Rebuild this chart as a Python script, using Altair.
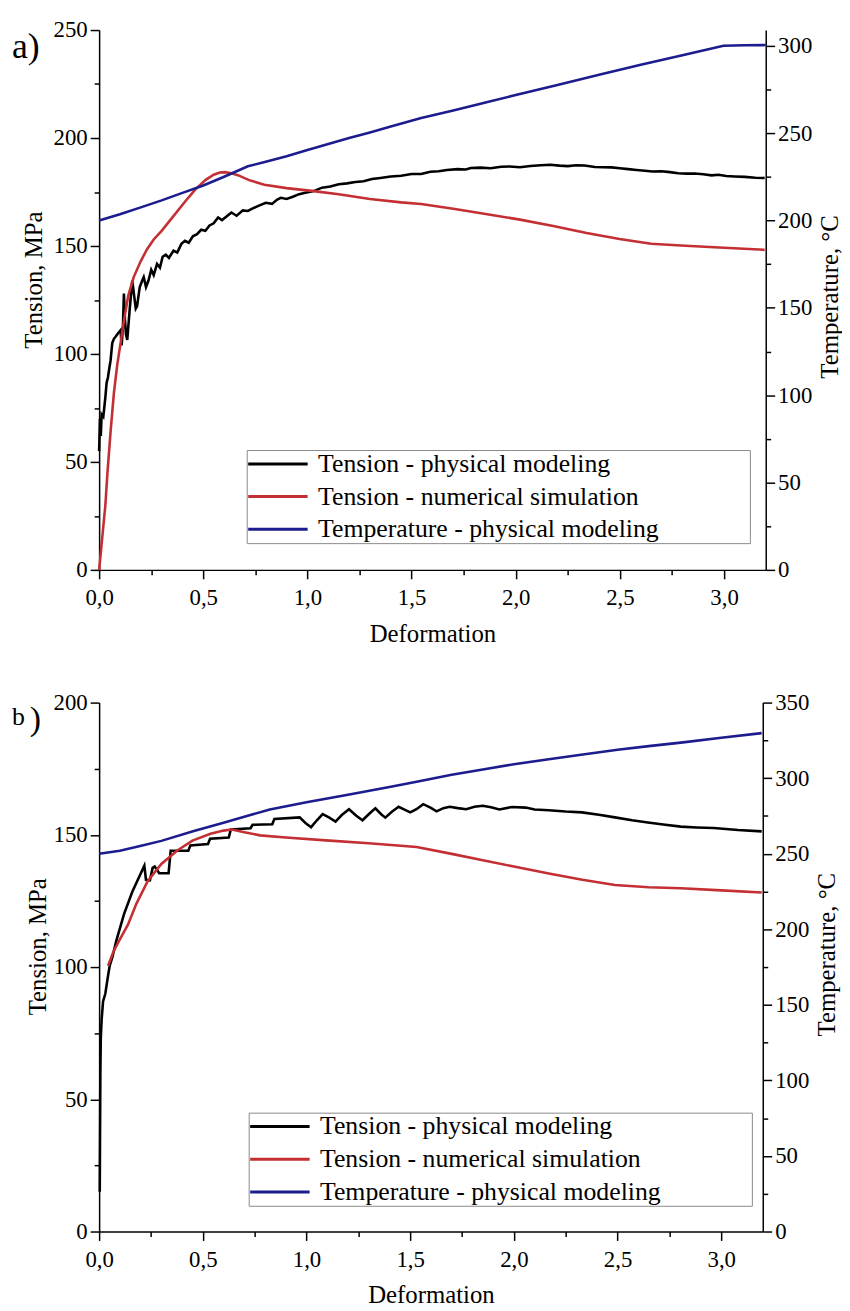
import altair as alt
import pandas as pd

FONT = "Liberation Serif"
SERIES = ["Tension - physical modeling", "Tension - numerical simulation",
          "Temperature - physical modeling"]
COLORS = ["#000000", "#c42f33", "#1c1c8e"]

# ---------------- panel a ----------------
a_phys_x = [0.000, 0.004, 0.008, 0.012, 0.020, 0.024, 0.030, 0.036, 0.042, 0.048, 0.055, 0.063,
            0.071, 0.079, 0.090, 0.103, 0.108, 0.114, 0.119, 0.124, 0.129, 0.135, 0.147, 0.159,
            0.168, 0.176, 0.182, 0.195, 0.207, 0.214, 0.225, 0.237, 0.250, 0.262, 0.278, 0.292,
            0.305, 0.320, 0.335, 0.357, 0.375, 0.395, 0.412, 0.430, 0.450, 0.470, 0.490, 0.510,
            0.530, 0.550, 0.571, 0.590, 0.610, 0.635, 0.660, 0.690, 0.714, 0.740, 0.770, 0.800,
            0.830, 0.855, 0.872, 0.900, 0.930, 0.960, 0.990, 1.030, 1.070, 1.110, 1.150, 1.190,
            1.230, 1.269, 1.310, 1.350, 1.400, 1.450, 1.500, 1.546, 1.590, 1.630, 1.670, 1.720,
            1.760, 1.784, 1.830, 1.880, 1.930, 1.970, 2.020, 2.070, 2.120, 2.165, 2.210, 2.250,
            2.290, 2.330, 2.380, 2.418, 2.460, 2.500, 2.540, 2.580, 2.620, 2.656, 2.700, 2.740,
            2.780, 2.820, 2.860, 2.900, 2.940, 2.973, 3.010, 3.050, 3.100, 3.150, 3.195]
a_phys_y = [55, 70, 62, 72, 71, 74.5, 80, 86.7, 89, 92.8, 97, 105,
            107, 108, 109.5, 111, 104, 112, 128, 116, 109, 106.5, 121, 134,
            127, 121, 122, 131, 134, 135.6, 131, 134, 139, 136.5, 141.7, 140,
            145, 146, 144.5, 147.8, 147, 151, 152.4, 151.5, 154.5, 155.5, 157.5, 157,
            159.5, 160.5, 163.2, 162, 163.5, 165.5, 164, 166.5, 166.2, 167.5, 168.8, 170,
            169.5, 171.5, 172.3, 171.8, 172.8, 174, 174.6, 175.4, 177, 177.5, 178.6, 179,
            179.6, 180, 181, 181.5, 182.2, 182.5, 183.3, 183.3, 184.4, 184.6, 185.2, 185.6,
            185.4, 186.1, 186.3, 186, 186.7, 186.8, 186.5, 187, 187.4, 187.6, 187.2, 187,
            187.4, 187.3, 186.6, 186.5, 186.4, 186, 185.6, 185.2, 184.8, 184.5, 184.6, 184.2,
            183.7, 183.5, 183.6, 183.2, 182.7, 183, 182.4, 182.2, 182, 181.6, 181.5]

a_num_x = [0, 0.016, 0.03, 0.04, 0.055, 0.071, 0.087, 0.103, 0.12, 0.14, 0.166, 0.2, 0.23,
           0.262, 0.3, 0.35, 0.412, 0.46, 0.51, 0.55, 0.58, 0.603, 0.63, 0.666, 0.72, 0.793,
           0.9, 1.03, 1.15, 1.3, 1.45, 1.546, 1.7, 1.863, 2.02, 2.18, 2.34, 2.498, 2.65,
           2.815, 3.0, 3.195]
a_num_y = [0, 16, 30, 45, 64, 82, 95, 105, 116, 127, 135.6, 143, 148.5,
           153, 157, 163, 170.5, 176, 180.5, 183, 184, 184.2, 183.8, 182.8, 180.5, 178.4,
           176.8, 175.4, 174, 171.8, 170.2, 169.4, 167.2, 164.7, 162.2, 159.3, 156, 153.2, 151,
           150.1, 149.2, 148.2]

a_temp_x = [0, 0.1, 0.2, 0.3, 0.4, 0.5, 0.6, 0.714, 0.8, 0.9, 1.0, 1.1, 1.2, 1.3, 1.4, 1.546,
            1.7, 1.85, 2.0, 2.2, 2.4, 2.6, 2.8, 2.997, 3.1, 3.2]
a_temp_y = [200, 203.6, 207.5, 211.5, 215.8, 220, 225, 231, 233.6, 236.8, 240.4, 243.8, 247.2,
            250.4, 253.8, 258.6, 263, 267.4, 271.8, 277.6, 283.4, 289.2, 294.6, 300, 300.3, 300.4]

# ---------------- panel b ----------------
b_phys_x = [0.003, 0.004, 0.005, 0.006, 0.008, 0.012, 0.019, 0.030, 0.043, 0.051, 0.065, 0.083,
            0.120, 0.160, 0.218, 0.226, 0.245, 0.258, 0.268, 0.290, 0.335, 0.345, 0.430, 0.440,
            0.525, 0.535, 0.625, 0.635, 0.730, 0.740, 0.835, 0.845, 0.967, 0.995, 1.022, 1.050,
            1.078, 1.110, 1.140, 1.170, 1.205, 1.240, 1.270, 1.300, 1.332, 1.360, 1.380, 1.410,
            1.444, 1.470, 1.500, 1.530, 1.563, 1.600, 1.627, 1.660, 1.690, 1.730, 1.770, 1.810,
            1.850, 1.890, 1.930, 1.990, 2.057, 2.100, 2.168, 2.250, 2.328, 2.410, 2.487, 2.570,
            2.646, 2.720, 2.805, 2.880, 2.964, 3.080, 3.195]
b_phys_y = [15, 30, 45, 60, 73, 80, 87, 90, 96.7, 100.5, 104, 110,
            120, 128.5, 138.3, 133, 132.8, 137.5, 138, 135.5, 135.5, 144, 144, 146,
            146.5, 148.5, 149, 152, 152.5, 153.8, 154, 156, 156.6, 154.5, 152.9, 155.5,
            157.8, 156.5, 155, 157.5, 159.7, 157.2, 155.5, 157.8, 160, 157.8, 156.5, 158.6,
            160.6, 159.6, 158.5, 159.7, 161.6, 160.2, 158.9, 160.1, 160.6, 160.1, 159.7, 160.6,
            161, 160.4, 159.6, 160.5, 160.3, 159.6, 159.3, 158.8, 158.5, 157.6, 156.6, 155.5,
            154.7, 153.9, 153.1, 152.8, 152.6, 151.8, 151.3]

b_num_x = [0.043, 0.07, 0.1, 0.139, 0.18, 0.234, 0.3, 0.377, 0.45, 0.537, 0.6, 0.64, 0.7,
           0.776, 0.9, 1.094, 1.3, 1.531, 1.7, 1.85, 2.0, 2.168, 2.33, 2.487, 2.65, 2.805,
           3.0, 3.195]
b_num_y = [100.5, 106, 110.5, 116, 124, 132.5, 139, 144.1, 147.8, 150.4, 151.6, 152, 151,
           149.8, 149, 147.9, 146.8, 145.4, 142.8, 140.4, 138, 135.4, 133, 131, 130.2, 129.8,
           129, 128.2]

b_temp_x = [0, 0.1, 0.203, 0.3, 0.457, 0.6, 0.7, 0.823, 1.0, 1.2, 1.4, 1.531, 1.7, 1.85, 2.0,
            2.168, 2.35, 2.5, 2.65, 2.805, 3.0, 3.195]
b_temp_y = [250, 252, 255.2, 258.5, 265, 270.5, 274.5, 279.2, 284, 289, 294.2, 297.6, 302.2,
            305.8, 309.2, 312.5, 316, 318.8, 321.2, 323.5, 326.8, 329.8]

X_TICKS = [i * 0.25 for i in range(13)]


def frame(xs, ys, name):
    return pd.DataFrame({"x": xs, "y": ys, "series": name})


def cond(major, test):
    return {"condition": {"test": test, "value": major}, "value": 5}


def panel(phys, num, temp, left_max, right_max, w, h, letter, lx, ly,
          ltx, lty, rtx, rty):
    tension = pd.concat([frame(*phys, SERIES[0]), frame(*num, SERIES[1])])
    tdf = frame(*temp, SERIES[2])

    color = alt.Color(
        "series:N",
        scale=alt.Scale(domain=SERIES, range=COLORS),
        sort=SERIES,
        legend=alt.Legend(
            title=None, orient="none", legendX=lx, legendY=ly,
            symbolType="stroke", symbolSize=3600, symbolStrokeWidth=3,
            clipHeight=28, rowPadding=5, padding=0, labelOffset=9,
            labelFont=FONT, labelFontSize=26, labelColor="black",
            labelExpr="datum.label + '              \u200b'",
            strokeColor="#8a8a8a", fillColor="white", labelLimit=0,
        ),
    )
    x = alt.X(
        "x:Q",
        scale=alt.Scale(domain=[0, 3.2], nice=False, zero=False),
        axis=alt.Axis(
            values=X_TICKS, title="Deformation",
            labelExpr="datum.value % 0.5 === 0 ? replace(format(datum.value, '.1f'), '.', ',') : ''",
            tickSize=cond(9, "datum.value % 0.5 === 0"),
            labelPadding=8, titlePadding=12, labelFlush=False,
        ),
    )
    left_ticks = list(range(0, left_max + 1, 25))
    right_ticks = list(range(0, int(right_max) + 1, 25))

    lines = alt.Chart(tension).mark_line(strokeWidth=2.6).encode(
        x=x,
        y=alt.Y(
            "y:Q",
            scale=alt.Scale(domain=[0, left_max], nice=False),
            axis=alt.Axis(
                orient="left", values=left_ticks, title="Tension, MPa",
                labelExpr="datum.value % 50 === 0 ? datum.label : ''",
                tickSize=cond(9, "datum.value % 50 === 0"),
                labelPadding=3, titleAngle=270, titleX=ltx, titleY=lty,
                titleAlign="center", titleBaseline="alphabetic", labelFlush=False,
            ),
        ),
        color=color,
        order=alt.Order("x:Q"),
    )
    temp_line = alt.Chart(tdf).mark_line(strokeWidth=2.6).encode(
        x=x,
        y=alt.Y(
            "y:Q",
            scale=alt.Scale(domain=[0, right_max], nice=False),
            axis=alt.Axis(
                orient="right", values=right_ticks, title="Temperature, °C",
                labelExpr="datum.value % 50 === 0 ? datum.label : ''",
                tickSize=cond(9, "datum.value % 50 === 0"),
                labelPadding=3, titleAngle=270, titleX=rtx, titleY=rty,
                titleAlign="center", titleBaseline="alphabetic", labelFlush=False,
            ),
        ),
        color=color,
    )
    layers = [lines, temp_line]
    for txt, size, px, py in letter:
        layers.append(
            alt.Chart(pd.DataFrame({"t": [txt]})).mark_text(
                font=FONT, fontSize=size, align="left", baseline="alphabetic", color="black"
            ).encode(x=alt.value(px), y=alt.value(py), text="t:N")
        )
    return alt.layer(*layers).resolve_scale(y="independent").properties(width=w, height=h)


top = panel((a_phys_x, a_phys_y), (a_num_x, a_num_y), (a_temp_x, a_temp_y),
            250, 309, 673, 545, [("a)", 36, -88, 28)], 149, 424,
            -58, 252, 72, 269)
bottom = panel((b_phys_x, b_phys_y), (b_num_x, b_num_y), (b_temp_x, b_temp_y),
               200, 350, 670, 534, [("b", 26, -88, 23), (")", 34, -70, 28)], 151, 414,
               -54, 246, 72, 254)

chart = alt.vconcat(top, bottom, spacing=46).resolve_scale(
    color="independent"
).resolve_legend(color="independent").properties(
    padding={"left": 4, "top": 5, "right": 0, "bottom": 0}
).configure_axis(
    labelFont=FONT, titleFont=FONT, labelFontSize=23, titleFontSize=25,
    titleFontWeight="normal", labelColor="black", titleColor="black",
    domainColor="black", tickColor="black", domainWidth=1.5, tickWidth=1.5, grid=False,
).configure_view(strokeWidth=0)

chart.save("out.html", embed_options={"renderer": "svg", "actions": False})
